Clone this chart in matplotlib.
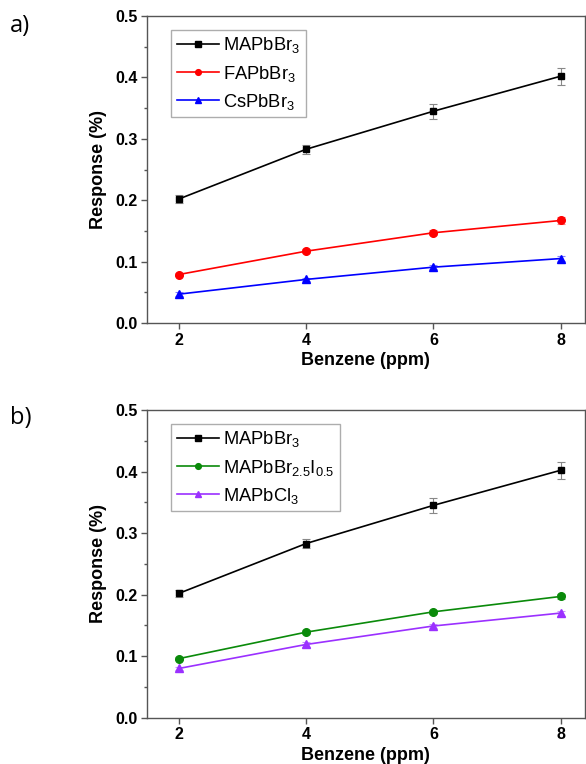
import matplotlib
matplotlib.use("Agg")
import matplotlib.pyplot as plt
from matplotlib.ticker import MultipleLocator, FixedLocator

plt.rcParams['font.family'] = ['Liberation Sans', 'DejaVu Sans']
plt.rcParams['mathtext.fontset'] = 'custom'
plt.rcParams['mathtext.rm'] = 'Liberation Sans'
plt.rcParams['mathtext.it'] = 'Liberation Sans'
plt.rcParams['mathtext.bf'] = 'Liberation Sans:bold'

x = [2, 4, 6, 8]

# panel a
a_labels = [r'MAPbBr$\mathregular{_3}$', r'FAPbBr$\mathregular{_3}$', r'CsPbBr$\mathregular{_3}$']
mapbbr3 = [0.202, 0.283, 0.345, 0.402]
mapbbr3_err = [0.006, 0.007, 0.012, 0.014]
fapbbr3 = [0.079, 0.117, 0.147, 0.167]
fapbbr3_err = [0.003, 0.003, 0.004, 0.005]
cspbbr3 = [0.047, 0.071, 0.091, 0.105]
cspbbr3_err = [0.003, 0.003, 0.003, 0.004]

# panel b
b_labels = [r'MAPbBr$\mathregular{_3}$', r'MAPbBr$\mathregular{_{2.5}}$I$\mathregular{_{0.5}}$', r'MAPbCl$\mathregular{_3}$']
mapbbr25i05 = [0.096, 0.139, 0.172, 0.197]
mapbbr25i05_err = [0.003, 0.003, 0.003, 0.004]
mapbcl3 = [0.080, 0.119, 0.149, 0.170]
mapbcl3_err = [0.003, 0.004, 0.003, 0.004]

xticks = [2, 4, 6, 8]
yticks = [0.0, 0.1, 0.2, 0.3, 0.4, 0.5]

fig = plt.figure(figsize=(5.86, 7.64), dpi=100)
ax_a = fig.add_axes([0.2509, 0.5772, 0.7471, 0.4018])
ax_b = fig.add_axes([0.2509, 0.0606, 0.7471, 0.4028])

spine_col = '#555555'

def style(ax):
    ax.set_xlim(1.5, 8.38)
    ax.set_ylim(0, 0.5)
    ax.xaxis.set_major_locator(FixedLocator(xticks))
    ax.yaxis.set_major_locator(FixedLocator(yticks))
    ax.yaxis.set_minor_locator(MultipleLocator(0.05))
    ax.set_yticklabels([f'{v:.1f}' for v in yticks])
    ax.set_xticklabels([str(v) for v in xticks])
    for s in ax.spines.values():
        s.set_color(spine_col)
        s.set_linewidth(1.0)
    ax.tick_params(axis='both', which='major', direction='out', length=4, width=1.0,
                   color=spine_col, labelsize=11.5, pad=3)
    ax.tick_params(axis='y', which='minor', direction='out', length=2, width=1.0, color=spine_col)
    for lab in ax.get_xticklabels() + ax.get_yticklabels():
        lab.set_fontweight('bold')
    ax.set_xlabel('Benzene (ppm)', fontsize=13, fontweight='bold', labelpad=3)
    ax.set_ylabel('Response (%)', fontsize=13, fontweight='bold', labelpad=6)

def series(ax, y, err, color, ecolor, marker, label, ms):
    ax.errorbar(x, y, yerr=err, color=color, ecolor=ecolor, elinewidth=0.8, capsize=3,
                capthick=0.8, marker=marker, markersize=ms, linewidth=1.2, label=label)

series(ax_a, mapbbr3, mapbbr3_err, 'black', '#888888', 's', a_labels[0], 5)
series(ax_a, fapbbr3, fapbbr3_err, 'red', '#ff8080', 'o', a_labels[1], 5.5)
series(ax_a, cspbbr3, cspbbr3_err, 'blue', '#8080ff', '^', a_labels[2], 5.5)

series(ax_b, mapbbr3, mapbbr3_err, 'black', '#888888', 's', b_labels[0], 5)
series(ax_b, mapbbr25i05, mapbbr25i05_err, '#0a8a0a', '#80c080', 'o', b_labels[1], 5.5)
series(ax_b, mapbcl3, mapbcl3_err, '#9b30ff', '#c890ff', '^', b_labels[2], 5.5)

for ax in (ax_a, ax_b):
    style(ax)
    handles, labels = ax.get_legend_handles_labels()
    handles = [h[0] for h in handles]
    leg = ax.legend(handles, labels, loc='upper left', bbox_to_anchor=(0.055, 0.955),
                    fontsize=13.2, frameon=True, fancybox=False, edgecolor='#999999',
                    handlelength=2.3, handletextpad=0.25, labelspacing=0.45,
                    borderpad=0.3, borderaxespad=0, markerscale=0.75)
    leg.get_frame().set_linewidth(1.0)

fig.text(0.017, 0.966, 'a)', fontsize=17, family=['Open Sans', 'DejaVu Sans'], va='center')
fig.text(0.017, 0.453, 'b)', fontsize=17, family=['Open Sans', 'DejaVu Sans'], va='center')

fig.savefig('out.png', dpi=100)
